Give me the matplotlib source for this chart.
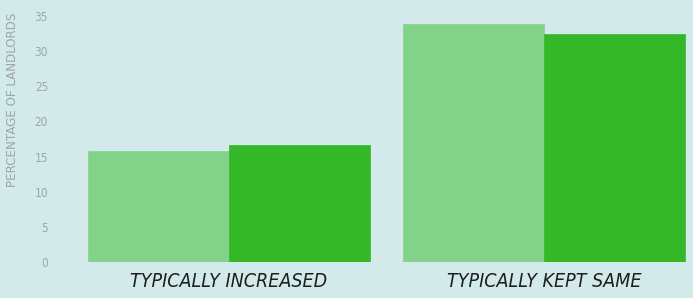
import matplotlib
matplotlib.use("Agg")
import matplotlib.pyplot as plt
import numpy as np

categories = ["TYPICALLY INCREASED", "TYPICALLY KEPT SAME"]
series_a = [15.8, 33.9]
series_b = [16.6, 32.4]
yticks = [0, 5, 10, 15, 20, 25, 30, 35]

bg = "#d2eaea"
fig = plt.figure(figsize=(6.93, 2.98), dpi=100, facecolor=bg)
ax = fig.add_axes([55/693, 36/298, 1 - 55/693, 246/298])
ax.set_facecolor(bg)

x = np.arange(len(categories))
w = 0.448
ax.bar(x - w/2, series_a, width=w, color="#82d28a", edgecolor="#82d28a", linewidth=0.5)
ax.bar(x + w/2, series_b, width=w, color="#34b827", edgecolor="#34b827", linewidth=0.5)

ax.set_xlim(-0.552, 1.473)
ax.set_ylim(0, 35)
ax.set_yticks(yticks)
ax.set_yticklabels([str(t) for t in yticks], family="DejaVu Sans", stretch="condensed",
                   fontsize=8.5, color="#9ea6a6")
ax.set_xticks(x)
ax.set_xticklabels(categories, family="DejaVu Sans", stretch="condensed", style="oblique",
                   fontsize=14, color="#1e1e1e")
ax.tick_params(axis="both", length=0)
ax.tick_params(axis="y", pad=5)
ax.tick_params(axis="x", pad=7)
for s in ax.spines.values():
    s.set_visible(False)
ax.set_ylabel("PERCENTAGE OF LANDLORDS", family="DejaVu Sans", stretch="condensed",
              fontsize=9.5, color="#9ea6a6")
ax.yaxis.set_label_coords(-36/638, 0.66)

fig.savefig("out.png", dpi=100, facecolor=bg)
